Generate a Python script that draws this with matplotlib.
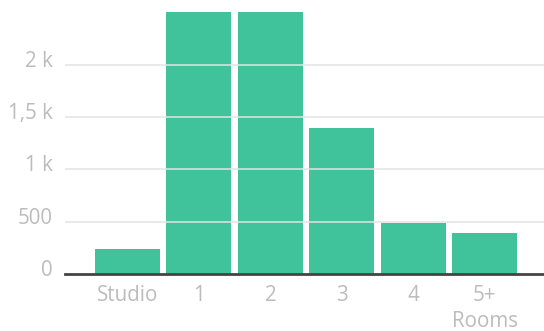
import matplotlib
matplotlib.use("Agg")
import matplotlib.pyplot as plt
from matplotlib.transforms import ScaledTranslation

plt.rcParams["font.family"] = ["Open Sans", "DejaVu Sans"]

categories = ["Studio", "1", "2", "3", "4", "5+\nRooms"]
counts = [240, 2600, 2600, 1400, 490, 390]
y_ticks = [0, 500, 1000, 1500, 2000]
y_labels = ["0", "500", "1 k", "1,5 k", "2 k"]

fig = plt.figure(figsize=(5.44, 3.31), dpi=100)
ax = fig.add_axes([0.1195, 0.1722, 0.8805, 0.7915])

xs = range(len(categories))
ax.bar(xs, counts, width=0.91, color="#40c39a", zorder=1)

ax.set_xlim(-0.875, 5.83)
ax.set_ylim(0, 2507)

ax.set_yticks(y_ticks)
ax.set_yticklabels(y_labels)
ax.set_xticks(list(xs))
ax.set_xticklabels(categories, linespacing=1.32)

for g in y_ticks[1:]:
    ax.axhline(g, color="#e3e3e3", lw=1.1, zorder=2)

for s in ["top", "right", "left"]:
    ax.spines[s].set_visible(False)
ax.spines["bottom"].set_color("#444444")
ax.spines["bottom"].set_linewidth(2)
ax.spines["bottom"].set_zorder(3)

ax.tick_params(axis="both", length=0, labelsize=14.8, labelcolor="#bcbcbc")
ax.tick_params(axis="y", pad=9)
ax.tick_params(axis="x", pad=8)
shift = ScaledTranslation(0, -2 / 100, fig.dpi_scale_trans)
for lab in ax.get_yticklabels():
    lab.set_verticalalignment("baseline")
    lab.set_transform(lab.get_transform() + shift)
for lab in ax.get_xticklabels():
    lab.set_verticalalignment("top")

fig.savefig("out.png", dpi=100)
